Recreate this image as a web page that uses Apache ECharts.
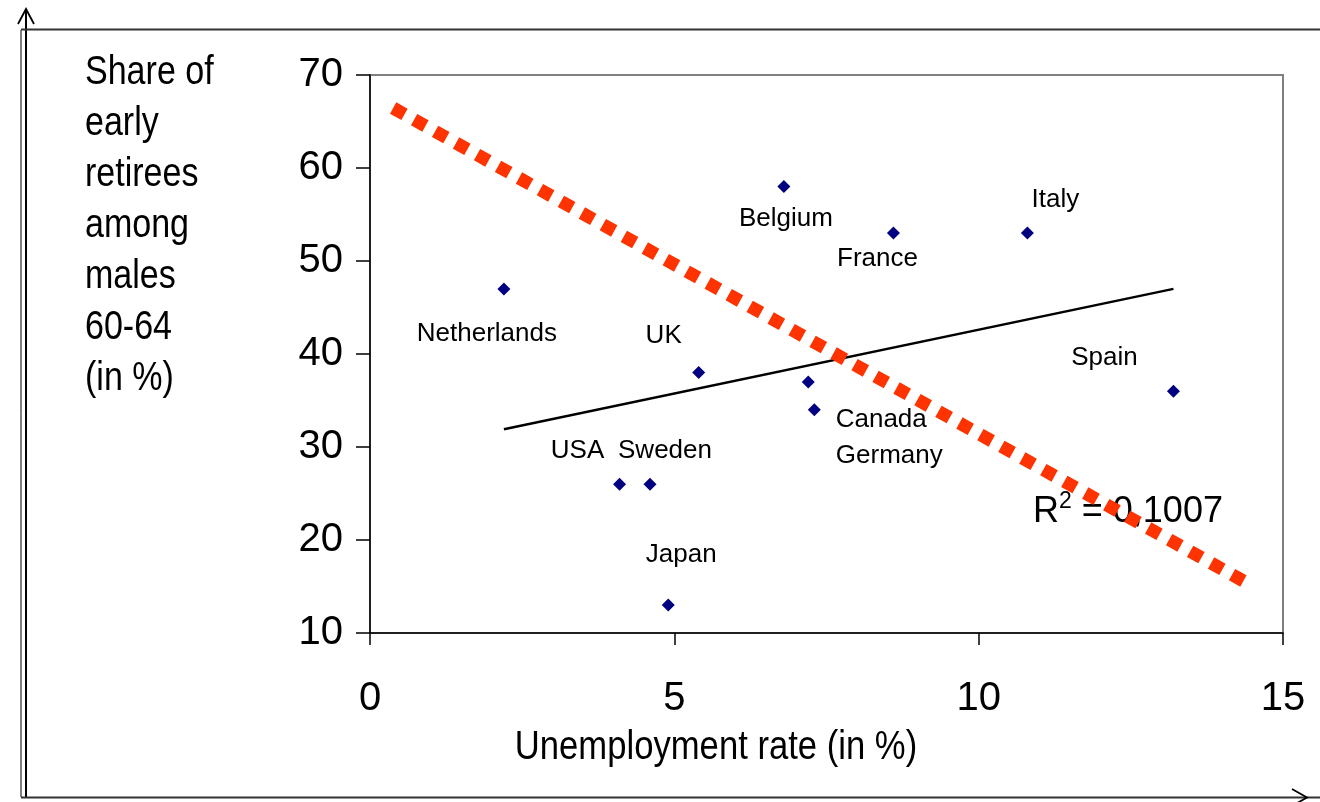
<!DOCTYPE html>
<html>
<head>
<meta charset="utf-8">
<script src="https://cdn.jsdelivr.net/npm/echarts@6/dist/echarts.min.js"></script>
<style>
html,body{margin:0;padding:0;background:#fff;}
#c{width:1320px;height:802px;}
</style>
</head>
<body>
<div id="c"></div>
<script>
// ---- data ----
const countries = ['Netherlands','Belgium','France','Italy','UK','Canada','Germany','Spain','USA','Sweden','Japan'];
const unemployment = [2.2, 6.8, 8.6, 10.8, 5.4, 7.2, 7.3, 13.2, 4.1, 4.6, 4.9];
const earlyRetirees = [47, 58, 53, 53, 38, 37, 34, 36, 26, 26, 13];
const trendX = [2.2, 13.2];
const trendY = [31.9, 47.0];
const redLineX = [0.38, 14.38];
const redLineY = [66.45, 15.48];
const xTicks = [0, 5, 10, 15];
const yTicks = [10, 20, 30, 40, 50, 60, 70];
const rSquaredText = '0,1007';

// ---- label placement (styling) ----
const labelOffsets = {
  'Netherlands': [-17, 45], 'Belgium': [2, 32], 'France': [-16, 26], 'Italy': [28, -33],
  'UK': [-35, -37], 'Canada': [73, 38], 'Germany': [75, 46], 'Spain': [-69, -33],
  'USA': [-42, -33], 'Sweden': [15, -33], 'Japan': [13, -50]
};

const chart = echarts.init(document.getElementById('c'), null, {renderer: 'canvas'});
const FONT = "'Liberation Sans', Arial, sans-serif";

const scatterData = countries.map((name, i) => ({
  name: name,
  value: [unemployment[i], earlyRetirees[i]],
  label: {show: true, position: 'inside', offset: labelOffsets[name], formatter: name,
          color: '#000', opacity: 1, fontSize: 26, fontFamily: FONT}
}));

chart.setOption({
  backgroundColor: '#ffffff',
  animation: false,
  grid: {left: 370, right: 37, top: 75, bottom: 169, show: true, borderColor: '#808080', borderWidth: 2, backgroundColor: 'transparent'},
  xAxis: {
    type: 'value', min: xTicks[0], max: xTicks[xTicks.length - 1], interval: 5,
    axisLine: {show: true, onZero: false, lineStyle: {color: '#000', width: 1.5}},
    axisTick: {show: true, inside: false, length: 12, lineStyle: {color: '#000', width: 1.5}},
    axisLabel: {color: '#000', fontSize: 40, fontFamily: FONT, margin: 46},
    splitLine: {show: false}
  },
  yAxis: {
    type: 'value', min: yTicks[0], max: yTicks[yTicks.length - 1], interval: 10,
    axisLine: {show: true, onZero: false, lineStyle: {color: '#000', width: 1.5}},
    axisTick: {show: true, inside: false, length: 14, lineStyle: {color: '#000', width: 1.5}},
    axisLabel: {color: '#000', fontSize: 40, fontFamily: FONT, margin: 27},
    splitLine: {show: false}
  },
  graphic: [
    // frame
    {type: 'line', shape: {x1: 21, y1: 30, x2: 21, y2: 797}, style: {stroke: '#000', lineWidth: 1}},
    {type: 'line', shape: {x1: 26, y1: 9, x2: 26, y2: 797}, style: {stroke: '#000', lineWidth: 2}},
    {type: 'polyline', shape: {points: [[18, 24], [26, 9], [34, 24]]}, style: {stroke: '#000', lineWidth: 1.8, fill: null}},
    {type: 'line', shape: {x1: 21, y1: 29.5, x2: 1320, y2: 29.5}, style: {stroke: '#333', lineWidth: 2}},
    {type: 'line', shape: {x1: 21, y1: 797.5, x2: 1320, y2: 797.5}, style: {stroke: '#333', lineWidth: 2}},
    {type: 'polyline', shape: {points: [[1292, 789], [1307, 797.5], [1292, 806]]}, style: {stroke: '#000', lineWidth: 1.8, fill: null}},
    // titles
    {type: 'text', x: 85, y: 47, scaleX: 0.83, style: {
      text: 'Share of\nearly\nretirees\namong\nmales\n60-64\n(in %)',
      font: "41px " + FONT, fill: '#000', lineHeight: 51
    }},
    {type: 'text', x: 716, y: 748, scaleX: 0.845, style: {
      text: 'Unemployment rate (in %)', font: "41px " + FONT, fill: '#000',
      textAlign: 'center', textVerticalAlign: 'middle'
    }},
    {type: 'text', x: 1033, y: 512, style: {
      text: 'R{sup|2} = ' + rSquaredText,
      font: "36px " + FONT, fill: '#000', textVerticalAlign: 'middle',
      rich: {sup: {fontSize: 23, fontFamily: FONT, verticalAlign: 'top', padding: [0, 0, 20, 0]}}
    }}
  ],
  series: [
    {
      type: 'line', z: 2, silent: true, symbol: 'none',
      data: trendX.map((x, i) => [x, trendY[i]]),
      lineStyle: {color: '#000', width: 2.5}
    },
    {
      type: 'line', z: 3, silent: true, symbol: 'none',
      data: redLineX.map((x, i) => [x, redLineY[i]]),
      lineStyle: {color: '#FF3300', width: 13, type: [13, 11], cap: 'butt'}
    },
    {
      type: 'scatter', z: 4, symbol: 'diamond', symbolSize: 13,
      itemStyle: {color: '#000080', opacity: 1},
      label: {color: '#000', fontSize: 26, fontFamily: FONT},
      emphasis: {disabled: true},
      data: scatterData
    }
  ]
});
</script>
</body>
</html>
